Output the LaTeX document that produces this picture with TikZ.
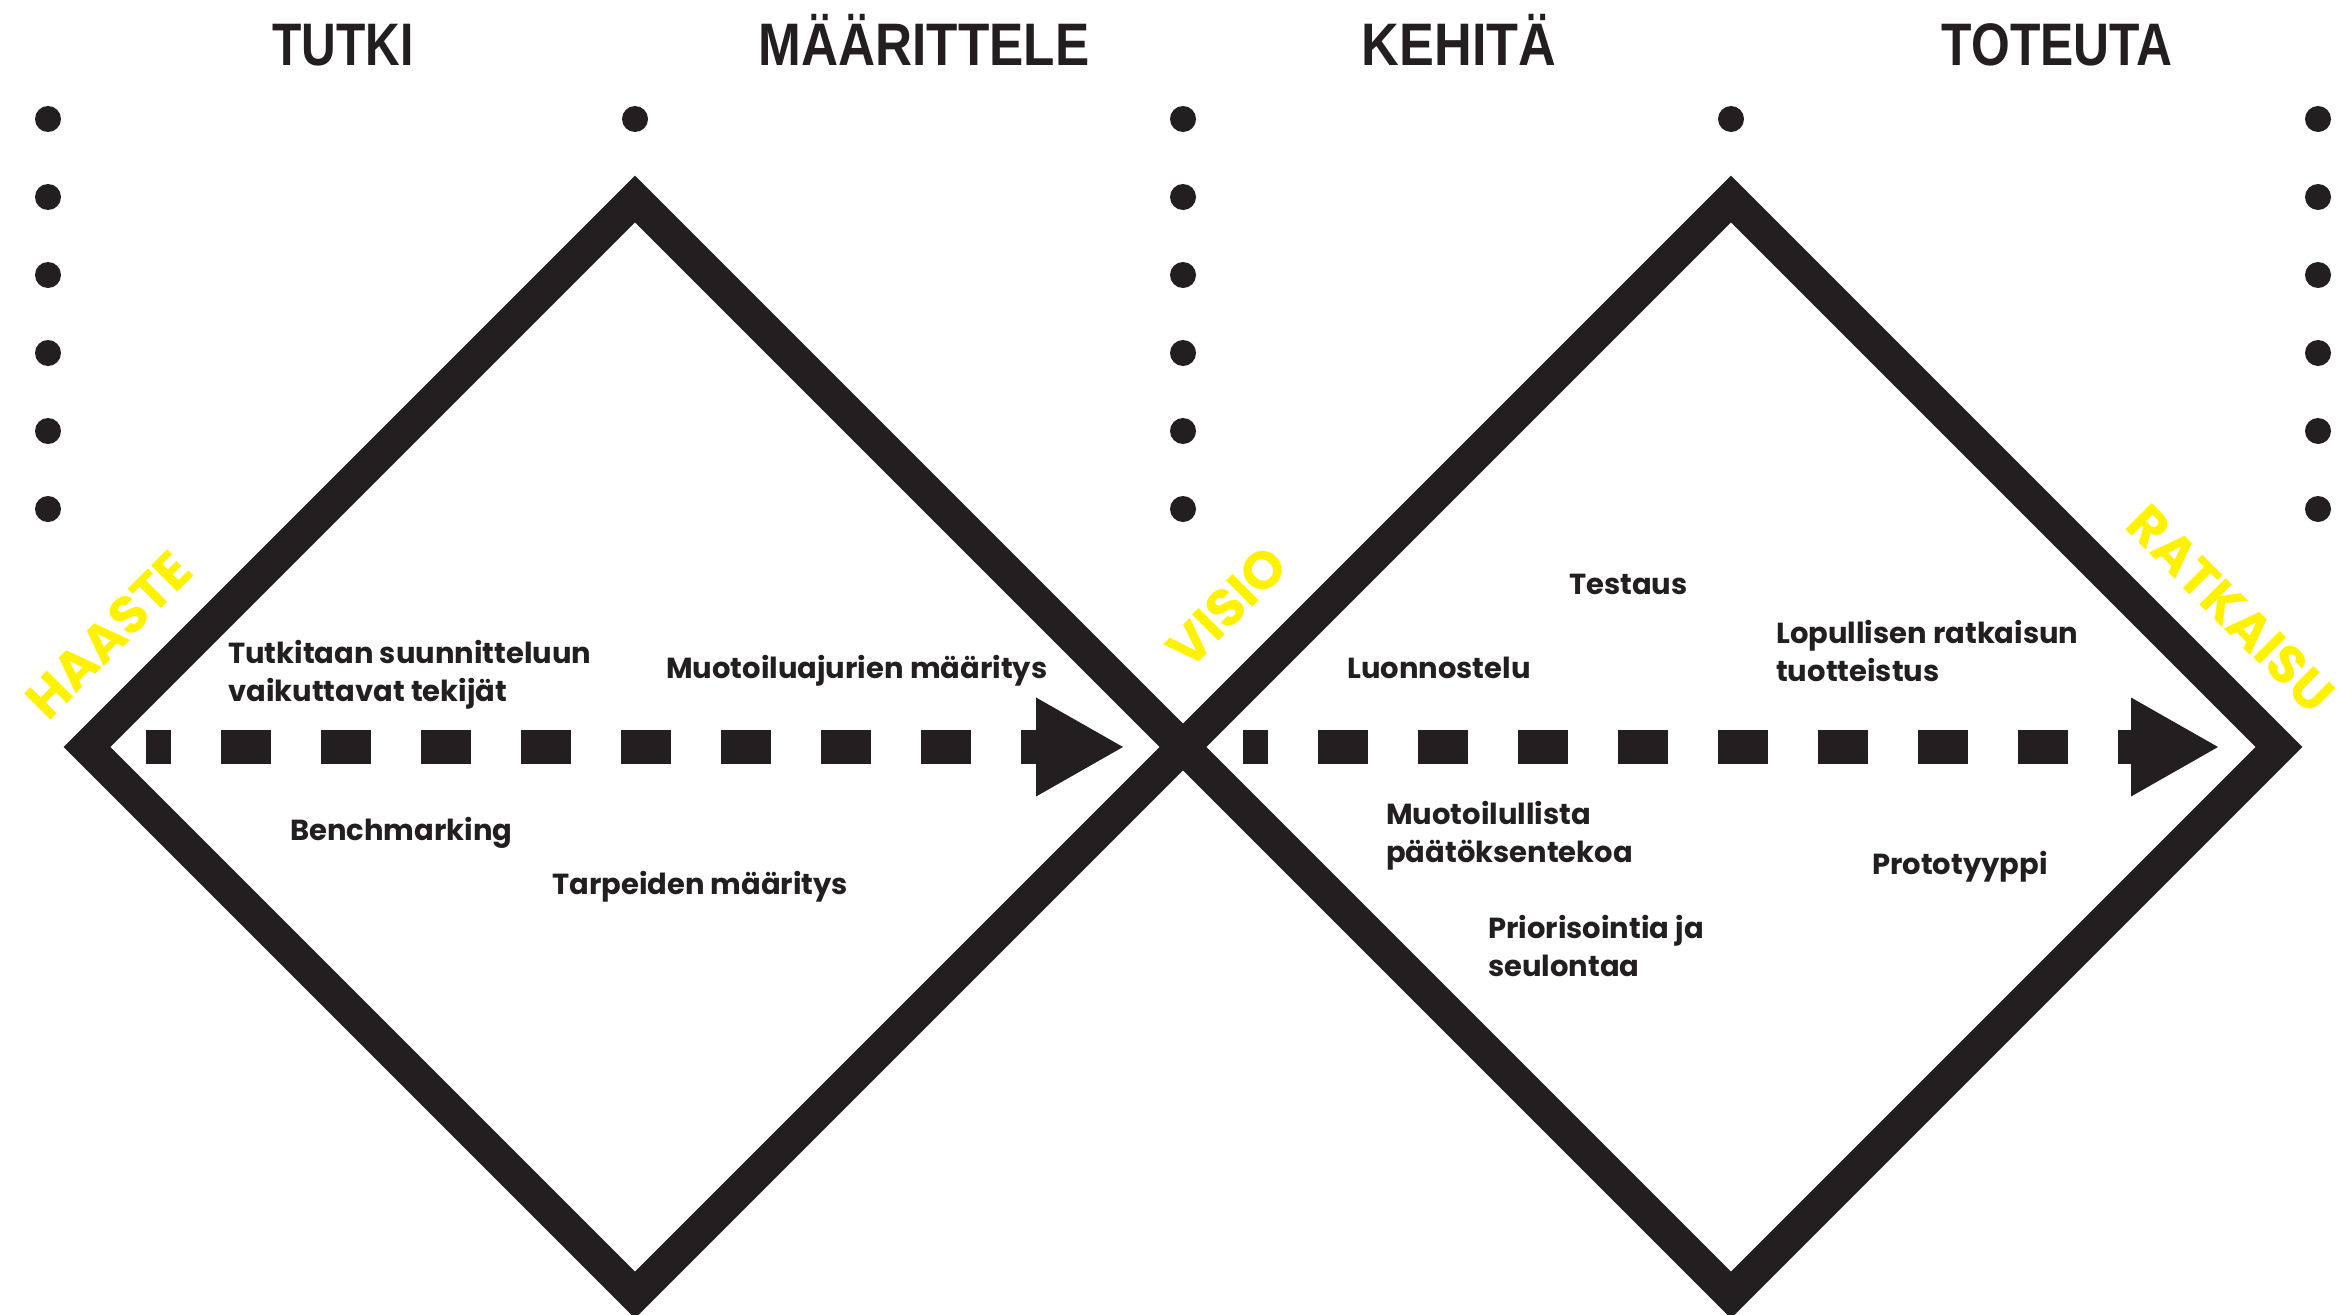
\documentclass[tikz,border=0pt]{standalone}
\usepackage{fontspec}
\usetikzlibrary{arrows.meta}
\newfontfamily\bodyfont{Poppins}
\newfontfamily\titlefont{Liberation Sans}
\definecolor{ink}{HTML}{231F20}
\definecolor{hl}{HTML}{FFF200}
\begin{document}
\begin{tikzpicture}[x=1pt,y=-1pt,
 dotmark/.style={circle, fill=ink, minimum size=26pt, inner sep=0pt},
 dia/.style={draw=ink, line width=33pt, line join=miter, miter limit=10},
 flow/.style={draw=ink, line width=34pt, dash pattern=on 50pt off 50pt, dash phase=25pt, -{Triangle[length=87pt,width=99pt,line width=0pt]}},
 ttl/.style={font=\titlefont\bfseries\fontsize{60}{60}\selectfont, text=ink, inner sep=0pt, anchor=base},
 lbl/.style={font=\bodyfont\bfseries\fontsize{29}{38}\selectfont, text=ink, inner sep=0pt, anchor=base west, align=left},
 yl/.style={font=\bodyfont\bfseries\fontsize{53}{53}\selectfont, text=hl, inner sep=0pt, anchor=center}]
\fill[white] (0,0) rectangle (2352,1314);
\useasboundingbox (0,0) rectangle (2352,1314);
% dots
\foreach \r [count=\i] in {119,197,275,353,431,509}{
  \node[dotmark] (dl\i) at (48,\r) {};
  \node[dotmark] (dm\i) at (1183,\r) {};
  \node[dotmark] (dr\i) at (2318,\r) {};
}
\node[dotmark] (dt1) at (635,119) {};
\node[dotmark] (dt2) at (1731,119) {};
% diamonds
\coordinate (lw) at (87,747);
\coordinate (ln) at (635,199);
\coordinate (x) at (1183,747);
\coordinate (ls) at (635,1295);
\coordinate (rn) at (1731,199);
\coordinate (re) at (2279,747);
\coordinate (rs) at (1731,1295);
\draw[dia] (lw) -- (ln) -- (x) -- (ls) -- cycle;
\draw[dia] (x) -- (rn) -- (re) -- (rs) -- cycle;
% flow arrows
\coordinate (a1s) at (146,747);
\coordinate (a1e) at (1123,747);
\coordinate (a2s) at (1243,747);
\coordinate (a2e) at (2218,747);
\draw[flow] (a1s) -- (a1e);
\draw[flow] (a2s) -- (a2e);
% titles
\node[ttl] (t1) at (343,66) {\scalebox{0.8}[1]{TUTKI}};
\node[ttl] (t2) at (924,66) {\scalebox{0.855}[1]{MÄÄRITTELE}};
\node[ttl] (t3) at (1459,66) {\scalebox{0.87}[1]{KEHITÄ}};
\node[ttl] (t4) at (2057,66) {\scalebox{0.83}[1]{TOTEUTA}};
% yellow labels
\node[yl, rotate=45] (haaste) at (109,635) {HAASTE};
\node[yl, rotate=45] (visio) at (1227,607) {VISIO};
\node[yl, rotate=-45] (ratkaisu) at (2231,609) {RATKAISU};
% labels
\node[lbl] (l1) at (228,701) {Tutkitaan suunnitteluun\\vaikuttavat tekijät};
\node[lbl] (l2) at (666,678) {Muotoiluajurien määritys};
\node[lbl] (l3) at (290,840) {Benchmarking};
\node[lbl] (l4) at (552,894) {Tarpeiden määritys};
\node[lbl] (l5) at (1569,594) {Testaus};
\node[lbl] (l6) at (1347,678) {Luonnostelu};
\node[lbl] (l7) at (1776,681) {Lopullisen ratkaisun\\tuotteistus};
\node[lbl] (l8) at (1386,862) {Muotoilullista\\päätöksentekoa};
\node[lbl] (l9) at (1488,976) {Priorisointia ja\\seulontaa};
\node[lbl] (l10) at (1872,874) {Prototyyppi};
\end{tikzpicture}
\end{document}
